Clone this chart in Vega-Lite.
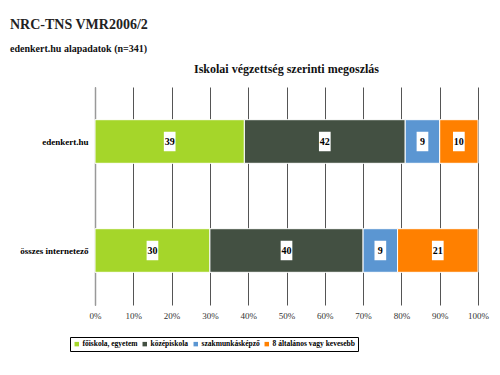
{
  "$schema": "https://vega.github.io/schema/vega-lite/v6.json",
  "background": "white",
  "padding": {"left": 10, "top": 18, "right": 22, "bottom": 10},
  "title": {
    "text": "NRC-TNS VMR2006/2",
    "subtitle": "edenkert.hu alapadatok (n=341)",
    "anchor": "start",
    "frame": "bounds",
    "font": "Liberation Serif",
    "fontSize": 14,
    "fontWeight": "bold",
    "color": "#222",
    "subtitleFont": "Liberation Serif",
    "subtitleFontSize": 10,
    "subtitleFontWeight": "bold",
    "subtitleColor": "#111",
    "subtitlePadding": 12,
    "offset": 9
  },
  "data": {
    "values": [
      {"cat": "edenkert.hu", "edu": "főiskola, egyetem", "o": 1, "value": 39},
      {"cat": "edenkert.hu", "edu": "középiskola", "o": 2, "value": 42},
      {"cat": "edenkert.hu", "edu": "szakmunkásképző", "o": 3, "value": 9},
      {"cat": "edenkert.hu", "edu": "8 általános vagy kevesebb", "o": 4, "value": 10},
      {"cat": "összes internetező", "edu": "főiskola, egyetem", "o": 1, "value": 30},
      {"cat": "összes internetező", "edu": "középiskola", "o": 2, "value": 40},
      {"cat": "összes internetező", "edu": "szakmunkásképző", "o": 3, "value": 9},
      {"cat": "összes internetező", "edu": "8 általános vagy kevesebb", "o": 4, "value": 21}
    ]
  },
  "vconcat": [
    {
      "title": {
        "text": "Iskolai végzettség szerinti megoszlás",
        "font": "Liberation Serif",
        "fontSize": 12,
        "fontWeight": "bold",
        "color": "#111",
        "anchor": "middle",
        "offset": 11
      },
      "width": 383,
      "height": 218,
      "transform": [
        {"stack": "value", "groupby": ["cat"], "sort": [{"field": "o", "order": "ascending"}], "as": ["v0", "v1"]},
        {"calculate": "(datum.v0 + datum.v1) / 2", "as": "mid"}
      ],
      "encoding": {
        "y": {
          "field": "cat",
          "type": "nominal",
          "sort": ["edenkert.hu", "összes internetező"],
          "scale": {"paddingInner": 0.6, "paddingOuter": 0.3},
          "axis": {
            "title": null,
            "labelFont": "Liberation Serif",
            "labelFontSize": 9,
            "labelFontWeight": "bold",
            "labelColor": "#000",
            "ticks": false,
            "labelPadding": 7,
            "minExtent": 85,
            "domainColor": "#999",
            "domainWidth": 1.5
          }
        }
      },
      "layer": [
        {
          "mark": {"type": "bar", "stroke": "white", "strokeWidth": 1},
          "encoding": {
            "x": {
              "field": "v0",
              "type": "quantitative",
              "scale": {"domain": [0, 100], "nice": false},
              "axis": {
                "title": null,
                "values": [0, 10, 20, 30, 40, 50, 60, 70, 80, 90, 100],
                "labelExpr": "datum.value + '%'",
                "labelOverlap": false,
                "labelFlush": false,
                "labelFont": "Liberation Serif",
                "labelFontSize": 9,
                "labelColor": "#333",
                "ticks": false,
                "domain": false,
                "grid": true,
                "gridColor": "#555",
                "gridWidth": 1,
                "labelPadding": 6
              }
            },
            "x2": {"field": "v1"},
            "color": {
              "field": "edu",
              "type": "nominal",
              "sort": ["főiskola, egyetem", "középiskola", "szakmunkásképző", "8 általános vagy kevesebb"],
              "scale": {
                "domain": ["főiskola, egyetem", "középiskola", "szakmunkásképző", "8 általános vagy kevesebb"],
                "range": ["#A5D62A", "#435042", "#5B96D2", "#FF8000"]
              },
              "legend": {
                "title": null,
                "orient": "none",
                "legendX": -25,
                "legendY": 250,
                "direction": "horizontal",
                "symbolType": "square",
                "symbolSize": 20,
                "symbolStrokeWidth": 0,
                "labelFont": "Liberation Serif",
                "labelFontSize": 7.5,
                "labelFontWeight": "bold",
                "labelColor": "#000",
                "labelOffset": 2,
                "columnPadding": 3,
                "strokeColor": "#000",
                "padding": 3
              }
            }
          }
        },
        {
          "mark": {"type": "point", "shape": "M-0.6,-1L0.6,-1L0.6,1L-0.6,1Z", "filled": true, "color": "white", "opacity": 1, "size": 380},
          "encoding": {
            "x": {
              "field": "mid",
              "type": "quantitative",
              "axis": {
                "title": null,
                "values": [0, 10, 20, 30, 40, 50, 60, 70, 80, 90, 100],
                "labelExpr": "datum.value + '%'",
                "labelOverlap": false,
                "labelFlush": false,
                "labelFont": "Liberation Serif",
                "labelFontSize": 9,
                "labelColor": "#333",
                "ticks": false,
                "domain": false,
                "grid": true,
                "gridColor": "#555",
                "gridWidth": 1,
                "labelPadding": 6
              }
            }
          }
        },
        {
          "mark": {"type": "text", "font": "Liberation Serif", "fontSize": 10, "fontWeight": "bold", "color": "#000"},
          "encoding": {
            "x": {
              "field": "mid",
              "type": "quantitative",
              "axis": {
                "title": null,
                "values": [0, 10, 20, 30, 40, 50, 60, 70, 80, 90, 100],
                "labelExpr": "datum.value + '%'",
                "labelOverlap": false,
                "labelFlush": false,
                "labelFont": "Liberation Serif",
                "labelFontSize": 9,
                "labelColor": "#333",
                "ticks": false,
                "domain": false,
                "grid": true,
                "gridColor": "#555",
                "gridWidth": 1,
                "labelPadding": 6
              }
            },
            "text": {"field": "value", "type": "quantitative"}
          }
        }
      ]
    }
  ],
  "config": {"view": {"stroke": null}}
}
